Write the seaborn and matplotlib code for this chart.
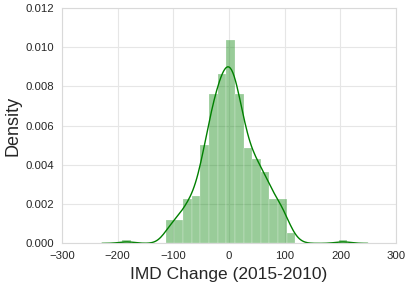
import numpy as np
import pandas as pd
import matplotlib
matplotlib.use("Agg")
import matplotlib.pyplot as plt
import seaborn as sns

# histogram: 26 equal bins from -191.5 to 212.2
bin_lo = -191.5
bin_hi = 212.2
counts = [1, 0, 0, 0, 0, 7, 7, 13, 14, 29, 44, 50, 60,
          44, 28, 25, 21, 13, 13, 3, 0, 0, 0, 0, 0, 1]

edges = np.linspace(bin_lo, bin_hi, len(counts) + 1)
df = pd.DataFrame({"change": (edges[:-1] + edges[1:]) / 2, "n": counts})

sns.set_style("whitegrid", {"grid.color": ".9", "axes.edgecolor": ".85"})
plt.rcParams["font.family"] = ["Liberation Sans", "DejaVu Sans"]

fig, ax = plt.subplots(figsize=(4.08, 2.87), dpi=100)
fig.subplots_adjust(left=0.152, right=0.971, top=0.973, bottom=0.152)

sns.histplot(data=df, x="change", weights="n", bins=len(counts),
             binrange=(bin_lo, bin_hi), stat="density",
             color="g", alpha=0.4, edgecolor="white", linewidth=0.15, ax=ax)
sns.kdeplot(data=df, x="change", weights="n", bw_adjust=0.45, cut=1.6,
            color="g", linewidth=1.0, ax=ax)

ax.set_xlim(-300, 300)
ax.set_ylim(0, 0.012)
ax.set_yticks(np.arange(0, 0.0121, 0.002))
ax.yaxis.set_major_formatter(matplotlib.ticker.FormatStrFormatter("%.3f"))
ax.tick_params(labelsize=8.2, pad=2, colors=".15")
ax.set_xlabel("IMD Change (2015-2010)", fontsize=12.5, labelpad=4, color=".15")
ax.set_ylabel("Density", fontsize=13, labelpad=3, color=".15")

plt.savefig("out.png", dpi=100)
plt.close("all")
